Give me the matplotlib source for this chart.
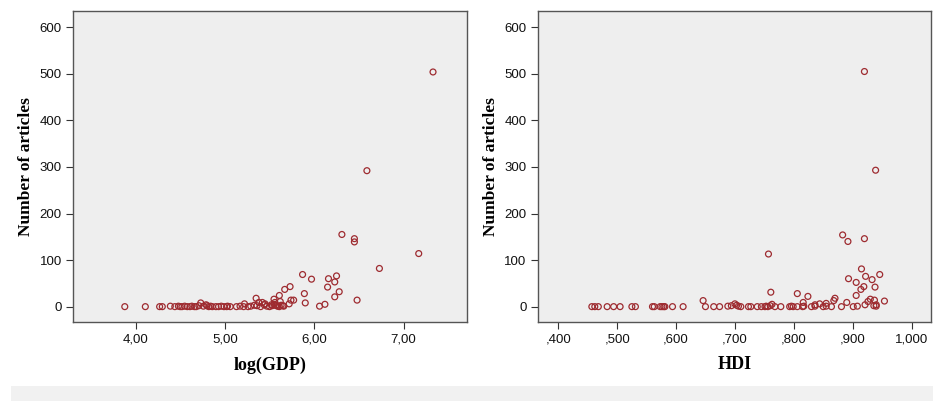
import matplotlib.pyplot as plt
from matplotlib.patches import Rectangle

# log(GDP) vs number of articles
gdp_log = [7.33, 6.59, 6.31, 6.45, 6.45, 7.17, 6.73, 5.87, 5.97, 6.16, 6.25, 6.23,
           6.15, 5.73, 5.67, 5.89, 6.28, 6.23, 5.61, 6.48, 5.90, 6.06, 6.12, 5.74,
           5.77, 5.72, 5.35, 5.55, 5.62, 5.38, 5.42, 5.56,
           3.88, 4.11, 4.27, 4.30, 4.39, 4.44, 4.48, 4.50, 4.52, 4.55, 4.58, 4.61,
           4.63, 4.66, 4.68, 4.71, 4.73, 4.76, 4.79, 4.80, 4.82, 4.84, 4.86, 4.90,
           4.93, 4.96, 4.99, 5.02, 5.03, 5.06, 5.13, 5.17, 5.21, 5.22, 5.26, 5.29,
           5.33, 5.36, 5.40, 5.44, 5.47, 5.50, 5.53, 5.55, 5.57, 5.59, 5.61, 5.63,
           5.65, 5.66, 5.45, 5.52, 5.58]
gdp_articles = [504, 292, 155, 146, 139, 114, 82, 69, 59, 60, 66, 53,
                42, 43, 37, 28, 32, 21, 24, 14, 8, 1, 5, 14,
                14, 6, 18, 16, 11, 9, 9, 9,
                0, 0, 0, 0, 1, 0, 1, 0, 0, 1, 0, 0,
                1, 0, 0, 2, 8, 1, 4, 2, 0, 1, 0, 0,
                0, 1, 0, 0, 1, 0, 0, 1, 0, 6, 0, 1,
                3, 2, 0, 4, 1, 0, 2, 5, 3, 1, 0, 3,
                2, 1, 6, 4, 2]

# HDI vs number of articles
hdi = [0.920, 0.939, 0.883, 0.892, 0.920, 0.757, 0.915, 0.946, 0.922, 0.933,
       0.893, 0.906, 0.919, 0.938, 0.914, 0.906, 0.761, 0.806, 0.824, 0.646,
       0.954, 0.930, 0.937, 0.926, 0.870, 0.868, 0.890, 0.816, 0.921, 0.940,
       0.936, 0.763, 0.700, 0.855, 0.844, 0.836,
       0.457, 0.462, 0.468, 0.483, 0.494, 0.505, 0.525, 0.531, 0.560, 0.563,
       0.573, 0.576, 0.579, 0.581, 0.594, 0.612, 0.650, 0.664, 0.674, 0.688,
       0.694, 0.703, 0.706, 0.710, 0.723, 0.727, 0.738, 0.745, 0.751, 0.753,
       0.756, 0.760, 0.768, 0.778, 0.793, 0.796, 0.799, 0.806, 0.815, 0.817,
       0.830, 0.836, 0.850, 0.855, 0.864, 0.881, 0.901, 0.908, 0.940]
hdi_articles = [505, 293, 154, 140, 146, 113, 81, 69, 65, 58,
                60, 52, 43, 42, 37, 24, 31, 28, 22, 13,
                12, 16, 14, 11, 18, 13, 9, 9, 4, 4,
                2, 5, 6, 7, 6, 4,
                0, 0, 0, 0, 0, 0, 0, 0, 0, 0,
                0, 0, 0, 0, 0, 0, 0, 0, 0, 1,
                2, 3, 1, 0, 0, 0, 0, 0, 0, 1,
                0, 2, 0, 0, 0, 1, 0, 0, 0, 1,
                0, 1, 0, 1, 0, 0, 0, 1, 1]

y_ticks = [0, 100, 200, 300, 400, 500, 600]
gdp_ticks = [4, 5, 6, 7]
gdp_labels = ["4,00", "5,00", "6,00", "7,00"]
hdi_ticks = [0.4, 0.5, 0.6, 0.7, 0.8, 0.9, 1.0]
hdi_labels = [",400", ",500", ",600", ",700", ",800", ",900", "1,000"]

plt.rcParams['font.family'] = ['Liberation Sans', 'DejaVu Sans']

fig = plt.figure(figsize=(9.33, 4.01), dpi=100)
fig.patch.set_facecolor("white")
# grey strip along the bottom
fig.patches.append(Rectangle((11 / 933, 0), 1, 15 / 401, transform=fig.transFigure,
                             facecolor="#f1f1f1", edgecolor="none", zorder=0))

ax1 = fig.add_axes([0.0782, 0.197, 0.4223, 0.7756])
ax2 = fig.add_axes([0.5763, 0.197, 0.4215, 0.7756])

panels = [
    (ax1, gdp_log, gdp_articles, gdp_ticks, gdp_labels, (3.30, 7.71), "log(GDP)"),
    (ax2, hdi, hdi_articles, hdi_ticks, hdi_labels, (0.365, 1.033), "HDI"),
]

for ax, xs, ys, xt, xl, xlim, xlabel in panels:
    ax.set_facecolor("#eeeeee")
    ax.scatter(xs, ys, s=18, facecolors="none", edgecolors="#9e2b30", linewidths=0.9)
    ax.set_xlim(*xlim)
    ax.set_ylim(-33, 635)
    ax.set_xticks(xt)
    ax.set_xticklabels(xl)
    ax.set_yticks(y_ticks)
    ax.tick_params(direction="out", length=5, width=0.8, color="#333333",
                   labelsize=9.5, labelcolor="#111111", pad=3)
    for sp in ax.spines.values():
        sp.set_color("#555555")
        sp.set_linewidth(1.0)
    ax.set_xlabel(xlabel, family="Liberation Serif", fontweight="bold", fontsize=13, labelpad=8)
    ax.set_ylabel("Number of articles", family="Liberation Serif", fontweight="bold",
                  fontsize=12.5, labelpad=4)

fig.savefig("out.png", dpi=100)
